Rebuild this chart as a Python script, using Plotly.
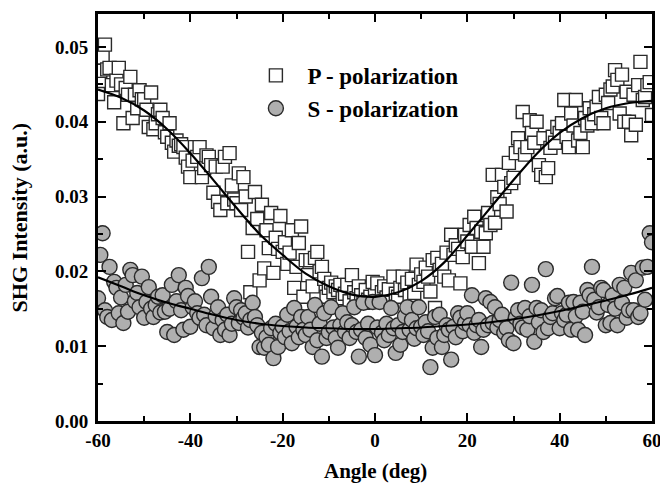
import numpy as np
import plotly.graph_objects as go

# Angle grid (deg), 0.5 deg steps from -60 to 60
angle = np.round(np.arange(-60, 60.01, 0.5), 1)

# P-polarization SHG intensity (a.u.)
p_pol = [
    0.0437, 0.0468, 0.0486, 0.0503, 0.0470, 0.0472, 0.0449, 0.0426, 0.0455, 0.0472,
    0.0450, 0.0398, 0.0445, 0.0436, 0.0460, 0.0405, 0.0436, 0.0418, 0.0442, 0.0430,
    0.0430, 0.0416, 0.0393, 0.0439, 0.0390, 0.0398, 0.0410, 0.0416, 0.0405, 0.0386,
    0.0380, 0.0398, 0.0372, 0.0360, 0.0375, 0.0368, 0.0370, 0.0366, 0.0352, 0.0340,
    0.0326, 0.0348, 0.0366, 0.0353, 0.0366, 0.0326, 0.0338, 0.0355, 0.0353, 0.0342,
    0.0305, 0.0340, 0.0293, 0.0282, 0.0340, 0.0353, 0.0291, 0.0358, 0.0315, 0.0296,
    0.0291, 0.0331, 0.0282, 0.0326, 0.0300, 0.0226, 0.0172, 0.0258, 0.0306, 0.0270,
    0.0188, 0.0289, 0.0204, 0.0255, 0.0231, 0.0278, 0.0198, 0.0245, 0.0230, 0.0274,
    0.0226, 0.0239, 0.0210, 0.0225, 0.0255, 0.0178, 0.0206, 0.0238, 0.0260, 0.0166,
    0.0215, 0.0195, 0.0215, 0.0180, 0.0218, 0.0226, 0.0200, 0.0206, 0.0190, 0.0166,
    0.0178, 0.0185, 0.0172, 0.0180, 0.0175, 0.0182, 0.0164, 0.0170, 0.0182, 0.0160,
    0.0195, 0.0172, 0.0164, 0.0180, 0.0168, 0.0158, 0.0175, 0.0162, 0.0166, 0.0186,
    0.0168, 0.0184, 0.0160, 0.0172, 0.0180, 0.0165, 0.0176, 0.0158, 0.0193, 0.0170,
    0.0166, 0.0178, 0.0193, 0.0175, 0.0185, 0.0168, 0.0190, 0.0171, 0.0209, 0.0182,
    0.0196, 0.0186, 0.0205, 0.0193, 0.0173, 0.0215, 0.0151, 0.0218, 0.0202, 0.0210,
    0.0193, 0.0225, 0.0188, 0.0249, 0.0222, 0.0235, 0.0230, 0.0184, 0.0219, 0.0249,
    0.0240, 0.0262, 0.0233, 0.0273, 0.0258, 0.0211, 0.0253, 0.0233, 0.0251, 0.0278,
    0.0262, 0.0329, 0.0265, 0.0299, 0.0290, 0.0329, 0.0313, 0.0280, 0.0345, 0.0318,
    0.0325, 0.0358, 0.0378, 0.0366, 0.0413, 0.0356, 0.0366, 0.0402, 0.0385, 0.0372,
    0.0400, 0.0342, 0.0329, 0.0378, 0.0326, 0.0338, 0.0365, 0.0380, 0.0372, 0.0393,
    0.0385, 0.0398, 0.0429, 0.0380, 0.0366, 0.0411, 0.0395, 0.0429, 0.0375, 0.0385,
    0.0366, 0.0405, 0.0395, 0.0418, 0.0398, 0.0410, 0.0420, 0.0433, 0.0405, 0.0398,
    0.0436, 0.0425, 0.0443, 0.0447, 0.0469, 0.0456, 0.0411, 0.0463, 0.0400, 0.0440,
    0.0400, 0.0382, 0.0436, 0.0396, 0.0449, 0.0480, 0.0429, 0.0433, 0.0449, 0.0453,
    0.0409,
]

# S-polarization SHG intensity (a.u.)
s_pol = [
    0.0164, 0.0222, 0.0251, 0.0148, 0.0139, 0.0206, 0.0135, 0.0186, 0.0178, 0.0144,
    0.0165, 0.0131, 0.0182, 0.0146, 0.0202, 0.0195, 0.0160, 0.0171, 0.0152, 0.0193,
    0.0138, 0.0159, 0.0179, 0.0150, 0.0139, 0.0155, 0.0166, 0.0145, 0.0168, 0.0146,
    0.0119, 0.0150, 0.0182, 0.0115, 0.0160, 0.0195, 0.0148, 0.0122, 0.0178, 0.0167,
    0.0126, 0.0152, 0.0160, 0.0144, 0.0138, 0.0191, 0.0142, 0.0128, 0.0206, 0.0166,
    0.0124, 0.0140, 0.0152, 0.0115, 0.0135, 0.0122, 0.0142, 0.0115, 0.0130, 0.0164,
    0.0152, 0.0131, 0.0148, 0.0138, 0.0144, 0.0125, 0.0135, 0.0158, 0.0139, 0.0128,
    0.0099, 0.0118, 0.0098, 0.0112, 0.0102, 0.0124, 0.0084, 0.0130, 0.0099, 0.0118,
    0.0126, 0.0112, 0.0142, 0.0120, 0.0104, 0.0151, 0.0126, 0.0112, 0.0139, 0.0122,
    0.0115, 0.0139, 0.0122, 0.0099, 0.0155, 0.0108, 0.0130, 0.0086, 0.0144, 0.0111,
    0.0119, 0.0152, 0.0125, 0.0111, 0.0098, 0.0128, 0.0144, 0.0119, 0.0132, 0.0111,
    0.0128, 0.0152, 0.0119, 0.0086, 0.0122, 0.0158, 0.0111, 0.0130, 0.0102, 0.0159,
    0.0088, 0.0125, 0.0159, 0.0118, 0.0108, 0.0130, 0.0115, 0.0151, 0.0124, 0.0091,
    0.0128, 0.0102, 0.0119, 0.0140, 0.0152, 0.0122, 0.0135, 0.0110, 0.0124, 0.0152,
    0.0126, 0.0115, 0.0132, 0.0120, 0.0072, 0.0098, 0.0139, 0.0111, 0.0142, 0.0099,
    0.0115, 0.0128, 0.0122, 0.0082, 0.0126, 0.0112, 0.0144, 0.0138, 0.0120, 0.0131,
    0.0144, 0.0128, 0.0168, 0.0118, 0.0128, 0.0135, 0.0099, 0.0122, 0.0164, 0.0128,
    0.0159, 0.0131, 0.0152, 0.0125, 0.0135, 0.0142, 0.0118, 0.0124, 0.0108, 0.0185,
    0.0104, 0.0138, 0.0148, 0.0130, 0.0125, 0.0151, 0.0122, 0.0140, 0.0182, 0.0106,
    0.0151, 0.0132, 0.0148, 0.0119, 0.0203, 0.0124, 0.0139, 0.0144, 0.0164, 0.0167,
    0.0124, 0.0144, 0.0135, 0.0142, 0.0158, 0.0122, 0.0159, 0.0140, 0.0122, 0.0158,
    0.0146, 0.0115, 0.0175, 0.0168, 0.0206, 0.0162, 0.0145, 0.0152, 0.0178, 0.0175,
    0.0128, 0.0155, 0.0131, 0.0168, 0.0150, 0.0128, 0.0182, 0.0158, 0.0178, 0.0138,
    0.0148, 0.0198, 0.0148, 0.0188, 0.0139, 0.0144, 0.0205, 0.0162, 0.0206, 0.0251,
    0.0239,
]

# Fit curves at 5 deg steps
fit_angle = [-60, -55, -50, -45, -40, -35, -30, -25, -20, -15, -10, -5, 0,
             5, 10, 15, 20, 25, 30, 35, 40, 45, 50, 55, 60]
p_fit = [0.0443, 0.0432, 0.0415, 0.0390, 0.0358, 0.0322, 0.0285, 0.0250, 0.0222,
         0.0197, 0.0180, 0.0169, 0.0166, 0.0172, 0.0187, 0.0212, 0.0248, 0.0285,
         0.0322, 0.0357, 0.0385, 0.0405, 0.0418, 0.0425, 0.0428]
s_fit = [0.0192, 0.0180, 0.0168, 0.0158, 0.0150, 0.0142, 0.0135, 0.0130, 0.0127,
         0.0125, 0.0124, 0.0123, 0.0123, 0.0124, 0.0125, 0.0127, 0.0129, 0.0132,
         0.0136, 0.0141, 0.0147, 0.0154, 0.0161, 0.0169, 0.0178]

x_ticks = [-60, -40, -20, 0, 20, 40, 60]
y_ticks = [0.00, 0.01, 0.02, 0.03, 0.04, 0.05]

FONT = "Liberation Serif"
edge = "#2a2a2a"
NB = "\u00a0"

fig = go.Figure()
fig.add_trace(go.Scatter(
    x=angle, y=p_pol, mode="markers", name=NB * 2 + "P - polarization",
    legendgroup="p",
    marker=dict(symbol="square", size=13, color="white",
                line=dict(color=edge, width=1.4)),
))
fig.add_trace(go.Scatter(
    x=angle, y=s_pol, mode="markers", name=NB * 2 + "S - polarization",
    legendgroup="s",
    marker=dict(symbol="circle", size=15, color="#afafaf",
                line=dict(color=edge, width=1.4)),
))
fig.add_trace(go.Scatter(
    x=fit_angle, y=p_fit, mode="lines", showlegend=False,
    line=dict(color="black", width=2.2, shape="spline", smoothing=1.0),
))
fig.add_trace(go.Scatter(
    x=fit_angle, y=s_fit, mode="lines", showlegend=False,
    line=dict(color="black", width=2.2, shape="spline", smoothing=1.0),
))

axis_common = dict(
    showline=True, linecolor="black", linewidth=3, mirror="ticks",
    ticks="inside", ticklen=8, tickwidth=2, tickcolor="black",
    showgrid=False, zeroline=False, automargin=False,
    ticklabeloverflow="allow",
    tickfont=dict(family=FONT, size=19, color="black", weight="bold"),
)

fig.update_xaxes(
    range=[-60, 60], tickvals=x_ticks, ticktext=[str(v) for v in x_ticks],
    minor=dict(ticks="inside", ticklen=5, tickwidth=2, dtick=10, tick0=0,
               tickcolor="black", showgrid=False),
    **axis_common,
)
fig.update_yaxes(
    range=[0, 0.0544], tickvals=y_ticks, ticktext=[f"{v:.2f}" for v in y_ticks],
    minor=dict(ticks="inside", ticklen=5, tickwidth=2, dtick=0.005, tick0=0,
               tickcolor="black", showgrid=False),
    ticklabelstandoff=3,
    **axis_common,
)

title_font = dict(family=FONT, size=21, color="black", weight="bold")
fig.add_annotation(text="Angle (deg)", xref="paper", yref="paper",
                   x=0.5, y=-0.123, xanchor="center", yanchor="middle",
                   showarrow=False, font=title_font)
fig.add_annotation(text="SHG Intensity (a.u.)", xref="paper", yref="paper",
                   x=-0.141, y=0.5, xanchor="center", yanchor="middle",
                   textangle=-90, showarrow=False,
                   font=dict(family=FONT, size=22, color="black", weight="bold"))

fig.update_layout(
    width=660, height=485,
    margin=dict(l=98, r=8, t=14, b=64),
    plot_bgcolor="white", paper_bgcolor="white",
    showlegend=True,
    legend=dict(
        x=0.285, y=0.902, xanchor="left", yanchor="top",
        bgcolor="rgba(0,0,0,0)", borderwidth=0,
        font=dict(family=FONT, size=23, color="black", weight="bold"),
        tracegroupgap=0,
    ),
)

# remove the default page margin so the figure sits at the window's corner
fig.write_html(
    "out.html",
    config={"displayModeBar": False},
    post_script="document.body.style.margin='0';document.body.style.overflow='hidden';",
)
